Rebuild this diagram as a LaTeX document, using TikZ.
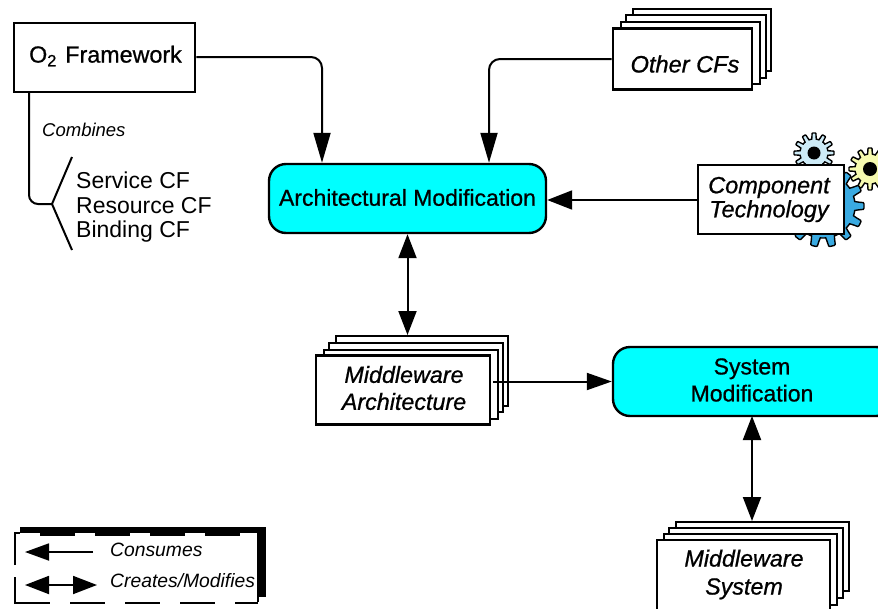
\documentclass[tikz,border=0pt]{standalone}
\usepackage{fontspec}
\setmainfont{Liberation Sans}
\newfontfamily\labfont[FakeBold=0.8]{Liberation Sans}
\usetikzlibrary{arrows.meta}
\definecolor{cyanfill}{RGB}{0,255,255}
\definecolor{gearbig}{RGB}{58,170,225}
\definecolor{gearpale}{RGB}{205,235,247}
\definecolor{gearyel}{RGB}{246,250,175}
\newcommand{\gearshape}[7]{%
  \draw[fill=#6,line width=1.4pt,shift={(#1,#2)}] plot[samples=#5*16+1,domain=0:360] (\x:{#4+(#3-#4)*min(1,max(0,1.5*cos(#5*\x)+0.35))}) -- cycle;
  \fill[black,shift={(#1,#2)}] (0,0) circle[radius=#7];}
\tikzset{
  x=1pt,y=-1pt,
  boxn/.style={draw,fill=white,line width=2.6pt,inner sep=0pt,align=center,font=\fontsize{23.3}{27}\selectfont\labfont},
  itbox/.style={boxn,font=\fontsize{23.3}{27}\selectfont\labfont\itshape},
  layer/.style={draw,fill=white,line width=2.2pt,inner sep=0pt},
  procbox/.style={draw,fill=cyanfill,line width=2.4pt,rounded corners=17pt,inner sep=0pt,align=center,font=\fontsize{23}{27}\selectfont\labfont},
  conn/.style={line width=2pt,rounded corners=11pt},
  ahead/.style={-{Triangle[length=30pt,width=17pt]}},
  dhead/.style={{Triangle[length=24pt,width=18pt]}-{Triangle[length=24pt,width=18pt]}},
  lbl/.style={inner sep=0pt,anchor=west,font=\fontsize{23}{24}\selectfont},
  lgd/.style={inner sep=0pt,anchor=west,font=\fontsize{19.3}{20}\selectfont\itshape},
  txtonly/.style={inner sep=0pt,align=center},
}
\newcommand{\rectnode}[6]{\node[#1,anchor=north west,minimum width=#5pt-#3pt,minimum height=#6pt-#4pt] (#2) at (#3,#4) {};}
\begin{document}
\begin{tikzpicture}
\useasboundingbox (0,0) rectangle (878,608);
% gears
\gearshape{870}{169}{21}{15}{12}{gearyel}{7}
\gearshape{823}{206}{41}{32}{14}{gearbig}{7}
\gearshape{814}{153}{20}{14}{12}{gearpale}{6.5}
% top-left box
\node[boxn,minimum width=181pt,minimum height=69pt] (o2) at (104.5,57.5) {};
\node[txtonly,font=\fontsize{23.3}{27}\selectfont\labfont] (o2t) at (105.5,56) {O\textsubscript{2}\hspace{2pt} Framework};
% other CFs
\rectnode{layer}{oa}{632}{8}{770}{70}
\rectnode{layer}{ob}{625}{14}{765}{77}
\rectnode{layer}{oc}{620}{21}{759}{83}
\node[boxn,minimum width=139pt,minimum height=61pt] (other) at (682.5,59) {};
\node[txtonly,font=\fontsize{23.6}{27}\selectfont\labfont\itshape] (othert) at (685,64) {Other CFs};
% process boxes
\node[procbox,minimum width=277pt,minimum height=69pt] (arch) at (407.5,198.5) {};
\node[txtonly,font=\fontsize{23}{27}\selectfont\labfont] (archt) at (407.5,197.5) {Architectural Modification};
\node[procbox,minimum width=280pt,minimum height=69pt] (sys) at (753,381.5) {};
\node[txtonly,font=\fontsize{23}{27}\selectfont\labfont] (systext) at (752,380) {System\\Modification};
% component
\node[boxn,minimum width=146pt,minimum height=69pt] (comp) at (771,199.5) {};
\node[txtonly,font=\fontsize{23.5}{24}\selectfont\labfont\itshape] (compt) at (769,199.5) {Component\\Technology};
% middleware architecture
\rectnode{layer}{maa}{335}{335}{507}{405}
\rectnode{layer}{mab}{328}{342}{502}{411}
\rectnode{layer}{mac}{323}{349}{497}{418}
\node[boxn,minimum width=174pt,minimum height=69pt] (ma) at (403,390) {};
\node[txtonly,font=\fontsize{23.3}{27}\selectfont\labfont\itshape] (mat) at (404,388) {Middleware\\Architecture};
% middleware system
\rectnode{layer}{msa}{675}{521}{848}{590}
\rectnode{layer}{msb}{668}{527}{842}{597}
\rectnode{layer}{msc}{663}{533}{836}{604}
\node[boxn,minimum width=173pt,minimum height=72pt] (ms) at (743.5,576) {};
\node[txtonly,font=\fontsize{23.3}{28}\selectfont\labfont\itshape] (mst) at (744,574.5) {Middleware\\System};
% connectors
\coordinate (o2out) at ([yshift=0.5pt]o2.east);
\coordinate (archa) at ([xshift=-85.5pt]arch.north);
\coordinate (archb) at ([xshift=81.5pt]arch.north);
\draw[conn,ahead] (o2out) -| (archa);
\draw[conn,ahead] (other.west) -| (archb);
\draw[conn,-{Triangle[length=25pt,width=19pt]}] (comp.west |- 0,200) -- (arch.east |- 0,200);
\draw[conn,dhead] (arch.south) -- (maa.north -| arch.south);
\draw[conn,-{Triangle[length=25pt,width=17pt]}] ([xshift=2pt]ma.east |- sys.west) -- (sys.west);
\coordinate (sysb) at (752,416);
\draw[conn,dhead] (sysb) -- (msa.north -| sysb);
% combines
\coordinate (fork) at (52,204);
\coordinate (forkt) at (72,157);
\coordinate (forkb) at (72,250);
\coordinate (o2d) at (29,92);
\coordinate (o2c) at (29,204);
\draw[line width=2pt,rounded corners=9pt] (o2d) -- (o2c) -- (fork);
\draw[line width=2pt] (forkt) -- (fork) -- (forkb);
\node[lgd,font=\fontsize{18.5}{20}\selectfont\itshape] (comb) at (42,130) {Combines};
\node[lbl] (s1) at (76,180) {Service CF};
\node[lbl] (s2) at (76,206) {Resource CF};
\node[lbl] (s3) at (76,232) {Binding CF};
% legend
\fill (20,527) rectangle (266,533);
\fill (259,527) rectangle (266,597);
\draw[line width=2.4pt,dash pattern=on 35pt off 20pt] (40,534.5) -- (258,534.5);
\draw[line width=2pt] (258,533) -- (258,602);
\draw[line width=2pt] (15,565) -- (15,533) -- (20,533);
\draw[line width=2pt] (15,577) -- (15,603) -- (50,603);
\draw[line width=2pt,dash pattern=on 35pt off 20pt] (70,603) -- (235,603);
\draw[line width=2pt] (235,603) -- (258,603);
\coordinate (c1a) at (93,552); \coordinate (c1b) at (25,552);
\coordinate (c2a) at (25,585); \coordinate (c2b) at (97,585);
\draw[line width=1.8pt,-{Triangle[length=24pt,width=17pt]}] (c1a) -- (c1b);
\draw[line width=1.8pt,dhead] (c2a) -- (c2b);
\node[lgd] (l1) at (110,550) {Consumes};
\node[lgd] (l2) at (110,581) {Creates/Modifies};
\end{tikzpicture}
\end{document}
